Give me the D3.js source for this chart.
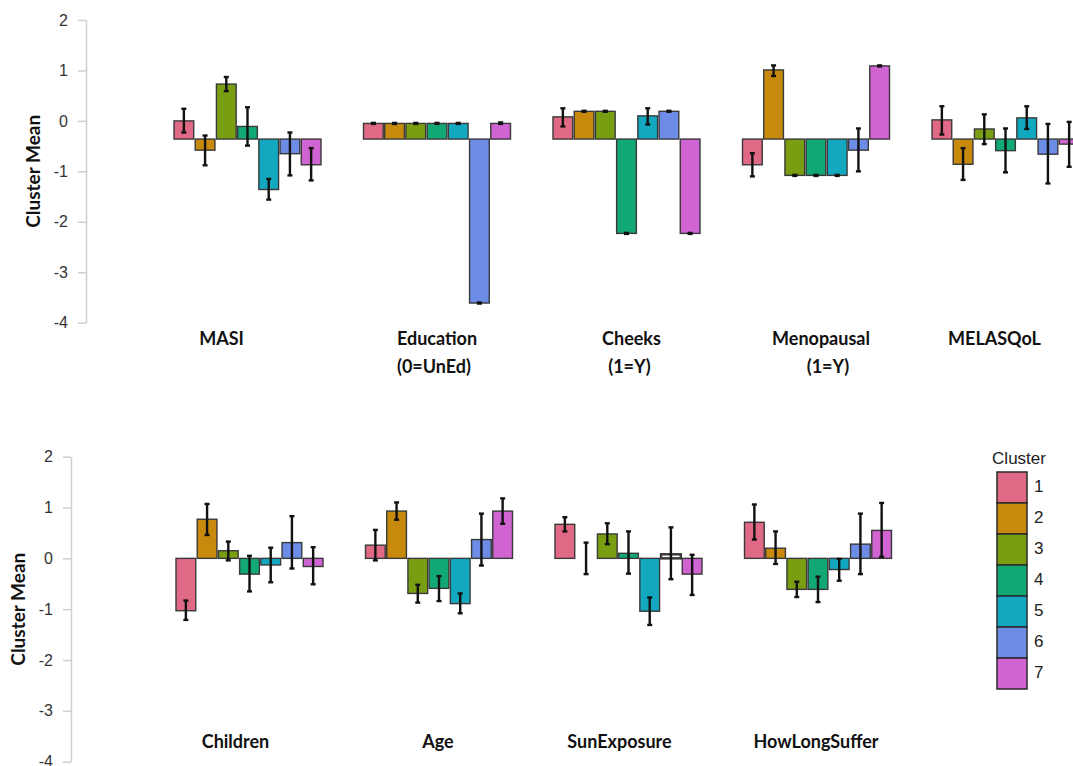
<!DOCTYPE html>
<html>
<head>
<meta charset="utf-8">
<script src="https://cdn.jsdelivr.net/npm/d3@7"></script>
<style>
  html, body { margin: 0; padding: 0; background: #ffffff; }
  svg { display: block; }
</style>
</head>
<body>
<script>
// ---------------- DATA ----------------
const clusters = [1, 2, 3, 4, 5, 6, 7];
const clusterColors = ["#E06A86", "#C88A0C", "#7A9E12", "#12A874", "#12A9C0", "#6C8CE6", "#D064D2"];
const yTicks = [-4, -3, -2, -1, 0, 1, 2];
const yTickLabels = ["-4", "-3", "-2", "-1", "0", "1", "2"];

const topVars = ["MASI", "Education", "Cheeks", "Menopausal", "MELASQoL"];
const topLabels = [["MASI"], ["Education", "(0=UnEd)"], ["Cheeks", "(1=Y)"], ["Menopausal", "(1=Y)"], ["MELASQoL"]];
const topBaseline = -0.36;

const bottomVars = ["Children", "Age", "SunExposure", "HowLongSuffer"];
const bottomLabels = [["Children"], ["Age"], ["SunExposure"], ["HowLongSuffer"]];
const bottomBaseline = 0;

// cluster means
const masiMean       = [0.00, -0.58, 0.73, -0.11, -1.36, -0.65, -0.87];
const educationMean  = [-0.05, -0.05, -0.05, -0.05, -0.05, -3.61, -0.05];
const cheeksMean     = [0.08, 0.19, 0.19, -2.23, 0.10, 0.19, -2.23];
const menopausalMean = [-0.87, 1.01, -1.08, -1.08, -1.08, -0.58, 1.09];
const melasqolMean   = [0.02, -0.86, -0.16, -0.59, 0.06, -0.66, -0.46];
const childrenMean   = [-1.03, 0.77, 0.15, -0.31, -0.13, 0.31, -0.16];
const ageMean        = [0.26, 0.93, -0.69, -0.59, -0.89, 0.37, 0.93];
const sunMean        = [0.67, 0.00, 0.48, 0.10, -1.04, 0.08, -0.31];
const howLongMean    = [0.71, 0.20, -0.61, -0.61, -0.22, 0.28, 0.55];

// error bar lows / highs
const masiLo       = [-0.23, -0.88, 0.59, -0.49, -1.56, -1.08, -1.18];
const masiHi       = [0.24, -0.29, 0.87, 0.27, -1.15, -0.23, -0.54];
const educationLo  = [-0.06, -0.06, -0.06, -0.06, -0.06, -3.62, -0.06];
const educationHi  = [-0.04, -0.04, -0.04, -0.04, -0.04, -3.60, -0.03];
const cheeksLo     = [-0.11, 0.18, 0.18, -2.24, -0.07, 0.18, -2.24];
const cheeksHi     = [0.25, 0.20, 0.20, -2.22, 0.25, 0.20, -2.22];
const menopausalLo = [-1.10, 0.89, -1.09, -1.09, -1.09, -1.00, 1.08];
const menopausalHi = [-0.64, 1.10, -1.07, -1.07, -1.07, -0.15, 1.10];
const melasqolLo   = [-0.27, -1.17, -0.46, -1.02, -0.16, -1.24, -0.91];
const melasqolHi   = [0.29, -0.54, 0.13, -0.15, 0.29, -0.06, -0.02];
const childrenLo   = [-1.21, 0.46, -0.04, -0.65, -0.47, -0.20, -0.51];
const childrenHi   = [-0.83, 1.07, 0.33, 0.05, 0.21, 0.83, 0.22];
const ageLo        = [-0.04, 0.76, -0.87, -0.84, -1.08, -0.14, 0.68];
const ageHi        = [0.56, 1.10, -0.52, -0.35, -0.69, 0.88, 1.18];
const sunLo        = [0.53, -0.31, 0.28, -0.30, -1.31, -0.41, -0.72];
const sunHi        = [0.81, 0.31, 0.69, 0.53, -0.77, 0.61, 0.07];
const howLongLo    = [0.37, -0.11, -0.76, -0.86, -0.44, -0.31, 0.03];
const howLongHi    = [1.06, 0.53, -0.46, -0.36, -0.01, 0.88, 1.09];

// special drawing quirks in the original
const hollowBars = [["SunExposure", 6]];
const faintBars  = [["SunExposure", 2]];

const topMeans = [masiMean, educationMean, cheeksMean, menopausalMean, melasqolMean];
const topLo = [masiLo, educationLo, cheeksLo, menopausalLo, melasqolLo];
const topHi = [masiHi, educationHi, cheeksHi, menopausalHi, melasqolHi];
const bottomMeans = [childrenMean, ageMean, sunMean, howLongMean];
const bottomLo = [childrenLo, ageLo, sunLo, howLongLo];
const bottomHi = [childrenHi, ageHi, sunHi, howLongHi];

// ---------------- LAYOUT ----------------
const W = 1073, H = 766;
const svg = d3.select("body").append("svg").attr("width", W).attr("height", H);
const labelFont = "Lato, 'Open Sans', sans-serif";
const axisFont = "'Liberation Sans', Arial, sans-serif";

const color = d3.scaleOrdinal().domain(clusters).range(clusterColors);
const groupStep = 189.5, groupWidth = 147;

function panel(cfg) {
  const g = svg.append("g");
  const y = d3.scaleLinear().domain([-4, 2]).range([cfg.yBottom, cfg.yTop]);
  const n = cfg.vars.length;
  const x0 = d3.scaleBand().domain(cfg.vars)
    .range([cfg.xStart, cfg.xStart + (n - 1) * groupStep + groupWidth])
    .paddingInner((groupStep - groupWidth) / groupStep).paddingOuter(0);
  const x1 = d3.scaleBand().domain(clusters).range([0, x0.bandwidth()]).paddingInner(0.07);

  // axis
  const axis = d3.axisLeft(y).tickValues(yTicks)
    .tickFormat(d => yTickLabels[yTicks.indexOf(d)])
    .tickSize(8).tickSizeOuter(0).tickPadding(10);
  const ag = g.append("g").attr("transform", `translate(${cfg.axisX},0)`).call(axis);
  ag.select(".domain").attr("stroke", "#cfcfcf").attr("stroke-width", 1.5);
  ag.selectAll(".tick line").attr("stroke", "#cfcfcf").attr("stroke-width", 1.5);
  ag.selectAll(".tick text").attr("fill", "#333").style("font-family", axisFont).style("font-size", "16px");

  // y title
  g.append("text")
    .attr("transform", `translate(${cfg.titleX},${(cfg.yTop + cfg.yBottom) / 2}) rotate(-90)`)
    .attr("text-anchor", "middle").attr("dominant-baseline", "middle")
    .style("font-family", labelFont).style("font-weight", "bold").style("font-size", "19px")
    .attr("fill", "#111").text("Cluster Mean");

  const isIn = (list, v, c) => list.some(d => d[0] === v && d[1] === c);

  cfg.vars.forEach((v, i) => {
    const gg = g.append("g").attr("transform", `translate(${x0(v)},0)`);
    const rows = clusters.map((c, j) => ({ c, m: cfg.means[i][j], lo: cfg.lo[i][j], hi: cfg.hi[i][j] }));
    gg.selectAll("rect").data(rows).join("rect")
      .attr("x", d => x1(d.c))
      .attr("width", x1.bandwidth())
      .attr("y", d => y(Math.max(d.m, cfg.base)))
      .attr("height", d => Math.abs(y(d.m) - y(cfg.base)))
      .attr("fill", d => isIn(hollowBars, v, d.c) ? "#ffffff" : color(d.c))
      .attr("stroke", d => isIn(faintBars, v, d.c) ? "#999" : "#3a3a3a")
      .attr("stroke-width", d => isIn(hollowBars, v, d.c) ? 2.5 : 1.4);

    const eb = gg.selectAll("g.eb").data(rows).join("g").attr("class", "eb");
    eb.append("line")
      .attr("x1", d => x1(d.c) + x1.bandwidth() / 2).attr("x2", d => x1(d.c) + x1.bandwidth() / 2)
      .attr("y1", d => y(d.lo)).attr("y2", d => y(d.hi))
      .attr("stroke", "#111").attr("stroke-width", 2.4);
    ["lo", "hi"].forEach(k => {
      eb.append("line")
        .attr("x1", d => x1(d.c) + x1.bandwidth() / 2 - 2.5).attr("x2", d => x1(d.c) + x1.bandwidth() / 2 + 2.5)
        .attr("y1", d => y(d[k])).attr("y2", d => y(d[k]))
        .attr("stroke", "#111").attr("stroke-width", 2.4);
    });

    // labels
    const lab = g.append("text")
      .attr("text-anchor", "middle")
      .style("font-family", labelFont).style("font-weight", "bold").style("font-size", "18px")
      .attr("fill", "#111");
    cfg.labels[i].forEach((t, k) => {
      lab.append("tspan")
        .attr("x", x0(v) + x0.bandwidth() / 2 + cfg.labelShift[i] + (k > 0 ? cfg.line2Shift[i] : 0))
        .attr("y", cfg.labelY + k * 28)
        .text(t);
    });
  });
}

panel({
  vars: topVars, labels: topLabels, means: topMeans, lo: topLo, hi: topHi, base: topBaseline,
  yTop: 20, yBottom: 322.7, xStart: 174, axisX: 86, titleX: 35, labelY: 345,
  labelShift: [-26, 0, 5, 5, -11], line2Shift: [0, -3, -2, 7, 0]
});

panel({
  vars: bottomVars, labels: bottomLabels, means: bottomMeans, lo: bottomLo, hi: bottomHi, base: bottomBaseline,
  yTop: 456.7, yBottom: 761.7, xStart: 176, axisX: 71, titleX: 20, labelY: 748,
  labelShift: [-14, -1, -9, -2], line2Shift: [0, 0, 0, 0]
});

// legend
const leg = svg.append("g").attr("transform", "translate(997,472)");
leg.append("text").attr("x", 22).attr("y", -8).attr("text-anchor", "middle")
  .style("font-family", axisFont).style("font-size", "17px").attr("fill", "#222").text("Cluster");
leg.selectAll("rect").data(clusters).join("rect")
  .attr("x", 0).attr("y", (d, i) => i * 31).attr("width", 30).attr("height", 31)
  .attr("fill", d => color(d)).attr("stroke", "#2a2a2a").attr("stroke-width", 1.5);
leg.selectAll("text.k").data(clusters).join("text").attr("class", "k")
  .attr("x", 37).attr("y", (d, i) => i * 31 + 16).attr("dominant-baseline", "middle")
  .style("font-family", axisFont).style("font-size", "17px").attr("fill", "#222").text(d => d);
</script>
</body>
</html>
